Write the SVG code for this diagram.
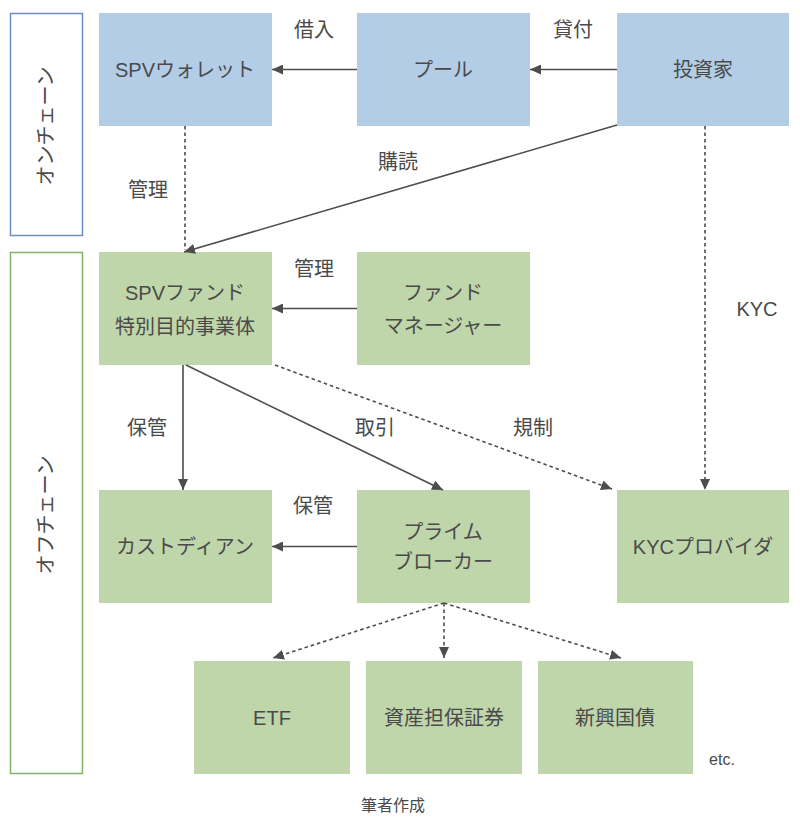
<svg xmlns="http://www.w3.org/2000/svg" width="800" height="827" viewBox="0 0 800 827">
<defs>
<style>
text{font-family:"Liberation Sans","Noto Sans CJK JP",sans-serif;fill:#4a4a4a;text-anchor:middle}
.n{font-size:20px}
.l{font-size:20px}
.s{font-size:16px}
.blue{fill:#b3cde6}
.green{fill:#bfd6aa}
.e{stroke:#4d4d4d;stroke-width:1.6;fill:none}
.d{stroke-dasharray:3.5 3}
</style>
<marker id="a" markerWidth="11" markerHeight="10" refX="11" refY="5" orient="auto" markerUnits="userSpaceOnUse"><path d="M0,0 L11,5 L0,10 z" fill="#4d4d4d"/></marker>
</defs>
<rect width="800" height="827" fill="#fff"/>
<g id="onchain"><rect x="10.5" y="13.5" width="72" height="222" fill="#fff" stroke="#6c8ebf" stroke-width="1.5"/><text class="n" transform="translate(53,126) rotate(-90)">オンチェーン</text></g>
<g id="offchain"><rect x="10.5" y="252.5" width="72" height="521" fill="#fff" stroke="#82b366" stroke-width="1.5"/><text class="n" transform="translate(53,515) rotate(-90)">オフチェーン</text></g>
<g id="spvwallet"><rect class="blue" x="99" y="13" width="173" height="113"/><text class="n" x="185" y="77">SPVウォレット</text></g>
<g id="pool"><rect class="blue" x="357" y="13" width="173" height="113"/><text class="n" x="443" y="77">プール</text></g>
<g id="investor"><rect class="blue" x="617" y="13" width="172" height="113"/><text class="n" x="703" y="77">投資家</text></g>
<g id="spvfund"><rect class="green" x="99" y="252" width="173" height="113"/><text class="n" x="185" y="300">SPVファンド</text><text class="n" x="185" y="334">特別目的事業体</text></g>
<g id="fundmanager"><rect class="green" x="357" y="252" width="173" height="113"/><text class="n" x="443" y="300">ファンド</text><text class="n" x="443" y="333">マネージャー</text></g>
<g id="custodian"><rect class="green" x="99" y="490" width="173" height="113"/><text class="n" x="185" y="554">カストディアン</text></g>
<g id="primebroker"><rect class="green" x="357" y="490" width="173" height="113"/><text class="n" x="443" y="539">プライム</text><text class="n" x="443" y="569">ブローカー</text></g>
<g id="kyc"><rect class="green" x="617" y="490" width="172" height="113"/><text class="n" x="703" y="554">KYCプロバイダ</text></g>
<g id="etf"><rect class="green" x="194" y="661" width="156" height="113"/><text class="n" x="272" y="725">ETF</text></g>
<g id="abs"><rect class="green" x="366" y="661" width="156" height="113"/><text class="n" x="444" y="725">資産担保証券</text></g>
<g id="embond"><rect class="green" x="538" y="661" width="155" height="113"/><text class="n" x="615" y="725">新興国債</text></g>
<g id="connectors">
<line class="e" x1="357" y1="69.5" x2="272" y2="69.5" marker-end="url(#a)"/>
<line class="e" x1="617" y1="69.5" x2="530" y2="69.5" marker-end="url(#a)"/>
<line class="e d" x1="185" y1="126" x2="185" y2="250"/>
<line class="e" x1="617" y1="125" x2="184" y2="252" marker-end="url(#a)"/>
<line class="e d" x1="705" y1="126" x2="705" y2="490" marker-end="url(#a)"/>
<line class="e" x1="357" y1="308.5" x2="272" y2="308.5" marker-end="url(#a)"/>
<line class="e" x1="183" y1="365" x2="183" y2="490" marker-end="url(#a)"/>
<line class="e" x1="186" y1="365" x2="443" y2="490" marker-end="url(#a)"/>
<line class="e d" x1="275" y1="365" x2="612" y2="489" marker-end="url(#a)"/>
<line class="e" x1="357" y1="546.5" x2="272" y2="546.5" marker-end="url(#a)"/>
<line class="e d" x1="444" y1="603" x2="273" y2="658" marker-end="url(#a)"/>
<line class="e d" x1="444" y1="603" x2="444" y2="658" marker-end="url(#a)"/>
<line class="e d" x1="444" y1="603" x2="621" y2="658" marker-end="url(#a)"/>
</g>
<g id="labels">
<text class="l" x="314" y="37">借入</text>
<text class="l" x="573" y="37">貸付</text>
<text class="l" x="398" y="169">購読</text>
<text class="l" x="148" y="197">管理</text>
<text class="l" x="314" y="276">管理</text>
<text class="l" x="757" y="316">KYC</text>
<text class="l" x="147" y="435">保管</text>
<text class="l" x="375" y="435">取引</text>
<text class="l" x="533" y="435">規制</text>
<text class="l" x="313" y="513">保管</text>
<text class="s" x="722" y="765">etc.</text>
<text class="s" x="393" y="811">筆者作成</text>
</g>
</svg>
